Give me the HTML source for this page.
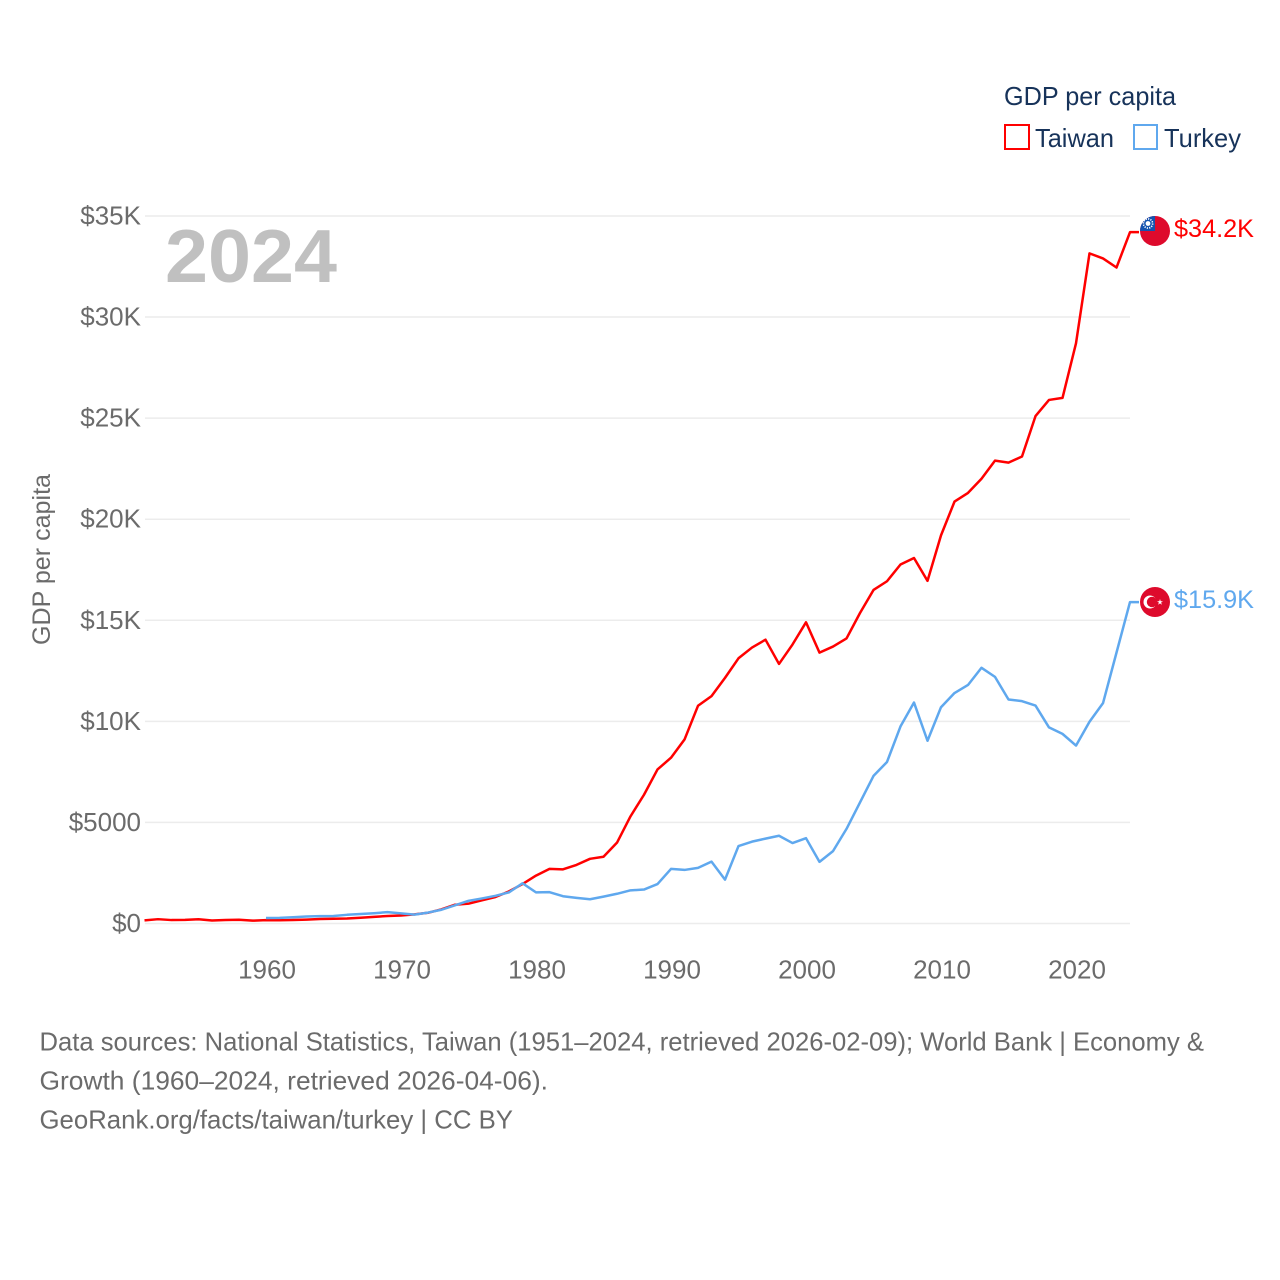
<!DOCTYPE html>
<html lang="en">
<head>
<meta charset="utf-8">
<title>GDP per capita: Taiwan and Turkey</title>
<style>
html,body{margin:0;padding:0;background:#fff;width:1280px;height:1280px;overflow:hidden}
svg{display:block}
text{font-family:"Liberation Sans",sans-serif}
</style>
</head>
<body>
<svg id="chart" width="1280" height="1280" viewBox="0 0 1280 1280" xmlns="http://www.w3.org/2000/svg">
  <defs>
    <clipPath id="tw-clip"><circle cx="1155" cy="231" r="15"/></clipPath>
    <clipPath id="tr-clip"><circle cx="1155" cy="602" r="15"/></clipPath>
  </defs>
  <g id="grid"></g>
  <g id="yticks"></g>
  <g id="xticks"></g>
  <text x="165" y="282" font-size="75" font-weight="700" fill="#c0c0c0" textLength="172" lengthAdjust="spacingAndGlyphs">2024</text>
  <text transform="translate(50 645) rotate(-90)" font-size="25" fill="#6b6b6b" textLength="171" lengthAdjust="spacingAndGlyphs">GDP per capita</text>
  <g id="series"></g>

  <g>
    <circle cx="1155" cy="231" r="15" fill="#de0a2c"/>
    <rect x="1140" y="216" width="15" height="15" fill="#1453b0" clip-path="url(#tw-clip)"/>
    <circle cx="1148" cy="223.5" r="4.6" fill="none" stroke="#fff" stroke-width="1.6" stroke-dasharray="1.2 1.2"/>
    <circle cx="1148" cy="223.5" r="2.4" fill="#fff"/>
  </g>
  <g>
    <circle cx="1155" cy="602" r="15" fill="#de0a2c"/>
    <circle cx="1150" cy="602" r="6.5" fill="#fff"/>
    <circle cx="1152" cy="602" r="5.2" fill="#de0a2c"/>
    <polygon points="1160,599 1160.7,601.2 1163,601.2 1161.1,602.5 1161.9,604.8 1160,603.4 1158.1,604.8 1158.9,602.5 1157,601.2 1159.3,601.2" fill="#fff"/>
  </g>
  <text x="1174" y="237" font-size="25" fill="#ff0000" textLength="80" lengthAdjust="spacingAndGlyphs">$34.2K</text>
  <text x="1174" y="608" font-size="25" fill="#5fa8ee" textLength="80" lengthAdjust="spacingAndGlyphs">$15.9K</text>

  <g>
    <text x="1004" y="105" font-size="26" fill="#17335a" textLength="172" lengthAdjust="spacingAndGlyphs">GDP per capita</text>
    <g>
      <rect x="1005" y="125" width="24" height="24" fill="#fff" stroke="#ff0000" stroke-width="2"/>
      <text x="1035" y="147" font-size="26" fill="#17335a" textLength="79" lengthAdjust="spacingAndGlyphs">Taiwan</text>
    </g>
    <g>
      <rect x="1134" y="125" width="23" height="24" fill="#fff" stroke="#5fa8ee" stroke-width="2"/>
      <text x="1164" y="147" font-size="26" fill="#17335a" textLength="77" lengthAdjust="spacingAndGlyphs">Turkey</text>
    </g>
  </g>

  <g font-size="26" fill="#6b6b6b">
    <text x="39.5" y="1050.5" textLength="1164.5" lengthAdjust="spacingAndGlyphs">Data sources: National Statistics, Taiwan (1951–2024, retrieved 2026-02-09); World Bank | Economy &amp;</text>
    <text x="39.5" y="1089.5" textLength="508.5" lengthAdjust="spacingAndGlyphs">Growth (1960–2024, retrieved 2026-04-06).</text>
    <text x="39.5" y="1128.5" textLength="473.5" lengthAdjust="spacingAndGlyphs">GeoRank.org/facts/taiwan/turkey | CC BY</text>
  </g>
</svg>
<script>
const yTickValues = [0, 5000, 10000, 15000, 20000, 25000, 30000, 35000];
const yTickLabels = ["$0", "$5000", "$10K", "$15K", "$20K", "$25K", "$30K", "$35K"];
const xTickYears = [1960, 1970, 1980, 1990, 2000, 2010, 2020];
const taiwanStartYear = 1951;
const turkeyStartYear = 1960;
const taiwanGdp = [154,213,170,178,210,150,170,185,140,165,160,170,190,220,235,250,285,330,370,395,450,530,700,930,980,1150,1310,1590,1950,2370,2700,2680,2900,3200,3300,4000,5300,6370,7620,8200,9100,10770,11250,12150,13120,13650,14040,12840,13800,14900,13400,13700,14100,15360,16500,16930,17760,18080,16950,19200,20870,21300,22000,22900,22800,23100,25100,25900,26000,28700,33150,32900,32450,34200];
const turkeyGdp = [275,280,310,345,365,370,430,470,510,560,500,440,540,680,900,1120,1240,1370,1540,1990,1540,1550,1350,1270,1200,1330,1470,1640,1680,1950,2700,2650,2750,3060,2170,3830,4050,4200,4340,3980,4220,3050,3580,4680,5990,7300,7990,9750,10930,9040,10700,11400,11800,12650,12200,11080,11000,10780,9700,9380,8800,9980,10900,13400,15900];

const NS = "http://www.w3.org/2000/svg";
const xScale = function (year) { return 144.5 + (year - 1951) * 13.5; };
const yScale = function (value) { return 923.5 - value * 0.020215; };
const make = function (tag, attrs, parent) {
  const el = document.createElementNS(NS, tag);
  for (const key in attrs) { el.setAttribute(key, attrs[key]); }
  parent.appendChild(el);
  return el;
};

const gridGroup = document.getElementById("grid");
const yGroup = document.getElementById("yticks");
yTickValues.forEach(function (value, i) {
  const line = make("line", {x1: 145, x2: 1130, y1: yScale(value), y2: yScale(value), stroke: "#ececec", "stroke-width": 1.5}, gridGroup);
  
  
  const label = make("text", {x: 141, y: yScale(value) + 8.5, "text-anchor": "end", "font-size": 26, fill: "#6b6b6b"}, yGroup);
  
  
  label.textContent = yTickLabels[i];
});

const xGroup = document.getElementById("xticks");
xTickYears.forEach(function (year) {
  const label = make("text", {x: xScale(year) + 1, y: 978.5, "text-anchor": "middle", "font-size": 26, fill: "#6b6b6b"}, xGroup);
  
  
  label.textContent = year;
});

const seriesGroup = document.getElementById("series");
const buildPath = function (values, startYear) {
  let d = "";
  values.forEach(function (value, i) {
    d += (i ? "L" : "M") + xScale(startYear + i).toFixed(2) + " " + yScale(value).toFixed(2);
  });
  d += "H1139";
  return d;
};
const taiwanLine = make("path", {d: buildPath(taiwanGdp, taiwanStartYear), fill: "none", stroke: "#ff0000", "stroke-width": 2.5, "stroke-linejoin": "round"}, seriesGroup);


const turkeyLine = make("path", {d: buildPath(turkeyGdp, turkeyStartYear), fill: "none", stroke: "#5fa8ee", "stroke-width": 2.5, "stroke-linejoin": "round"}, seriesGroup);


</script>
</body>
</html>
